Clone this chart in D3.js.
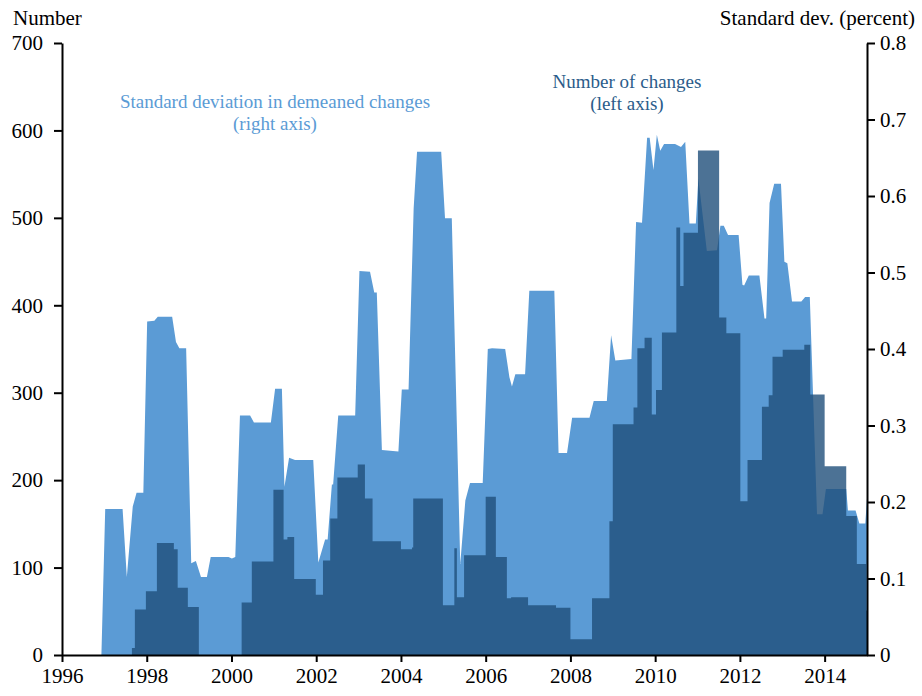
<!DOCTYPE html>
<html>
<head>
<meta charset="utf-8">
<script src="https://cdn.jsdelivr.net/npm/d3@7"></script>
<style>
  body { margin: 0; background: #fff; }
  svg text { font-family: "Liberation Serif", "Times New Roman", serif; }
</style>
</head>
<body>
<div id="chart"></div>
<script>
// Standard deviation in demeaned changes (right axis), vertices of the area
const sdYears = [1996.93, 1997.02, 1997.43, 1997.53, 1997.67, 1997.76, 1997.92, 1998.01, 1998.18, 1998.26,
  1998.60, 1998.69, 1998.77, 1998.93, 1999.05, 1999.16, 1999.28, 1999.42, 1999.51, 1999.93,
  2000.01, 2000.09, 2000.20, 2000.44, 2000.53, 2000.93, 2001.03, 2001.19, 2001.25, 2001.36,
  2001.50, 2001.93, 2002.05, 2002.21, 2002.27, 2002.37, 2002.40, 2002.52, 2002.92, 2003.02,
  2003.27, 2003.37, 2003.43, 2003.55, 2003.94, 2004.02, 2004.18, 2004.30, 2004.38, 2004.95,
  2005.04, 2005.20, 2005.40, 2005.52, 2005.63, 2005.93, 2006.05, 2006.15, 2006.46, 2006.56,
  2006.62, 2006.70, 2006.93, 2007.03, 2007.62, 2007.72, 2007.92, 2008.04, 2008.45, 2008.55,
  2008.86, 2008.96, 2009.06, 2009.44, 2009.55, 2009.69, 2009.81, 2009.87, 2009.96, 2010.04,
  2010.12, 2010.21, 2010.47, 2010.61, 2010.71, 2010.81, 2010.96, 2011.02, 2011.22, 2011.46,
  2011.54, 2011.62, 2011.72, 2011.97, 2012.06, 2012.10, 2012.21, 2012.46, 2012.58, 2012.62,
  2012.70, 2012.81, 2012.97, 2013.05, 2013.12, 2013.23, 2013.45, 2013.54, 2013.65, 2013.82,
  2013.95, 2014.03, 2014.51, 2014.55, 2014.73, 2014.82, 2014.96, 2015.00];
const sdValues = [0, 0.191, 0.191, 0.102, 0.194, 0.212, 0.212, 0.436, 0.437, 0.442,
  0.442, 0.409, 0.401, 0.401, 0.120, 0.123, 0.102, 0.102, 0.128, 0.128,
  0.126, 0.128, 0.313, 0.313, 0.304, 0.304, 0.348, 0.348, 0.220, 0.258,
  0.255, 0.255, 0.121, 0.151, 0.151, 0.223, 0.223, 0.313, 0.313, 0.502,
  0.501, 0.474, 0.474, 0.268, 0.266, 0.347, 0.347, 0.584, 0.658, 0.658,
  0.571, 0.571, 0.119, 0.202, 0.225, 0.225, 0.400, 0.401, 0.400, 0.363,
  0.351, 0.367, 0.367, 0.476, 0.476, 0.264, 0.264, 0.310, 0.310, 0.332,
  0.332, 0.418, 0.385, 0.387, 0.566, 0.565, 0.676, 0.676, 0.634, 0.680,
  0.659, 0.668, 0.668, 0.664, 0.671, 0.564, 0.564, 0.623, 0.528, 0.529,
  0.561, 0.561, 0.549, 0.549, 0.484, 0.483, 0.496, 0.496, 0.440, 0.440,
  0.591, 0.616, 0.616, 0.514, 0.512, 0.462, 0.462, 0.468, 0.468, 0.184,
  0.184, 0.217, 0.217, 0.189, 0.189, 0.172, 0.172, 0.205];

// Number of changes (left axis), each value holds from its start until the next one
const countStarts = [1997.65, 1997.72, 1997.98, 1998.24, 1998.64, 1998.73, 1998.97, 1999.23, 2000.24, 2000.48,
  2000.99, 2001.23, 2001.32, 2001.48, 2001.99, 2002.16, 2002.33, 2002.50, 2002.98, 2003.15,
  2003.33, 2004.00, 2004.26, 2004.29, 2004.99, 2005.26, 2005.32, 2005.49, 2006.00, 2006.24,
  2006.50, 2006.60, 2007.00, 2007.66, 2008.00, 2008.51, 2008.92, 2009.00, 2009.49, 2009.58,
  2009.75, 2009.92, 2010.02, 2010.16, 2010.50, 2010.59, 2010.67, 2011.01, 2011.51, 2011.68,
  2012.01, 2012.18, 2012.52, 2012.68, 2012.77, 2013.01, 2013.52, 2013.66, 2014.00, 2014.51,
  2014.76, 2014.98, 2015.00];
const countValues = [8, 52, 73, 128, 121, 77, 55, 0, 60, 107,
  189, 132, 135, 87, 69, 108, 156, 203, 218, 179,
  130, 121, 123, 179, 57, 122, 66, 114, 181, 112,
  65, 66, 57, 54, 18, 65, 153, 264, 283, 351,
  363, 275, 303, 369, 489, 422, 483, 577, 386, 368,
  176, 223, 284, 297, 341, 349, 355, 298, 216, 159,
  104, 51, 51];

const yearTicks = [1996, 1998, 2000, 2002, 2004, 2006, 2008, 2010, 2012, 2014];
const leftTicks = [0, 100, 200, 300, 400, 500, 600, 700];
const rightTicks = [0, 0.1, 0.2, 0.3, 0.4, 0.5, 0.6, 0.7, 0.8];

const width = 922;
const height = 696;
const margin = { top: 43, right: 55, bottom: 41, left: 62 };

const svg = d3.select('#chart')
  .append('svg')
    .attr('width', width)
    .attr('height', height)
    .attr('viewBox', [0, 0, width, height]);

const x = d3.scaleLinear()
  .domain([1996, 2015])
  .range([margin.left, width - margin.right]);

const yLeft = d3.scaleLinear()
  .domain([0, 700])
  .range([height - margin.bottom, margin.top]);

const yRight = d3.scaleLinear()
  .domain([0, 0.8])
  .range([height - margin.bottom, margin.top]);

// Light area: standard deviation
const sdPoints = sdYears.map((t, i) => ({ t, v: sdValues[i] }));
svg.append('path')
  .datum(sdPoints)
  .attr('fill', '#5b9bd5')
  .attr('d', d3.area()
    .x(d => x(d.t))
    .y0(yRight(0))
    .y1(d => yRight(d.v)));

// Dark columns: number of changes, drawn semi-opaque over the light area
const countPoints = countStarts.map((t, i) => ({ t, v: countValues[i] }));
svg.append('path')
  .datum(countPoints)
  .attr('fill', '#1f4f7a')
  .attr('fill-opacity', 0.8)
  .attr('d', d3.area()
    .curve(d3.curveStepAfter)
    .x(d => x(d.t))
    .y0(yLeft(0))
    .y1(d => yLeft(d.v)));

// Axes
const fmt = d3.format('~g');

const leftAxis = svg.append('g')
  .attr('transform', `translate(${margin.left},0)`)
  .call(d3.axisLeft(yLeft).tickValues(leftTicks).tickSize(8).tickSizeOuter(0).tickPadding(11));

const rightAxis = svg.append('g')
  .attr('transform', `translate(${width - margin.right},0)`)
  .call(d3.axisRight(yRight).tickValues(rightTicks).tickFormat(fmt).tickSize(8).tickSizeOuter(0).tickPadding(5));

const bottomAxis = svg.append('g')
  .attr('transform', `translate(0,${height - margin.bottom})`)
  .call(d3.axisBottom(x).tickValues(yearTicks).tickFormat(d3.format('d')).tickSize(7).tickSizeOuter(0).tickPadding(6));

[leftAxis, rightAxis, bottomAxis].forEach(g => {
  g.selectAll('path, line').attr('stroke', '#000').attr('stroke-width', 2);
  g.selectAll('text')
    .attr('fill', '#000')
    .style('font-family', '"Liberation Serif", "Times New Roman", serif')
    .style('font-size', '21px');
});

// Axis titles
svg.append('text')
  .attr('x', 13)
  .attr('y', 25)
  .style('font-size', '21px')
  .text('Number');

svg.append('text')
  .attr('x', 915)
  .attr('y', 25)
  .attr('text-anchor', 'end')
  .style('font-size', '21px')
  .text('Standard dev. (percent)');

// Series labels
const sdLabel = svg.append('text')
  .attr('text-anchor', 'middle')
  .attr('fill', '#5b9bd5')
  .style('font-size', '19px');
sdLabel.append('tspan').attr('x', 275).attr('y', 108).text('Standard deviation in demeaned changes');
sdLabel.append('tspan').attr('x', 275).attr('y', 130).text('(right axis)');

const countLabel = svg.append('text')
  .attr('text-anchor', 'middle')
  .attr('fill', '#2b5c8a')
  .style('font-size', '19px');
countLabel.append('tspan').attr('x', 627).attr('y', 88).text('Number of changes');
countLabel.append('tspan').attr('x', 627).attr('y', 110).text('(left axis)');
</script>
</body>
</html>
